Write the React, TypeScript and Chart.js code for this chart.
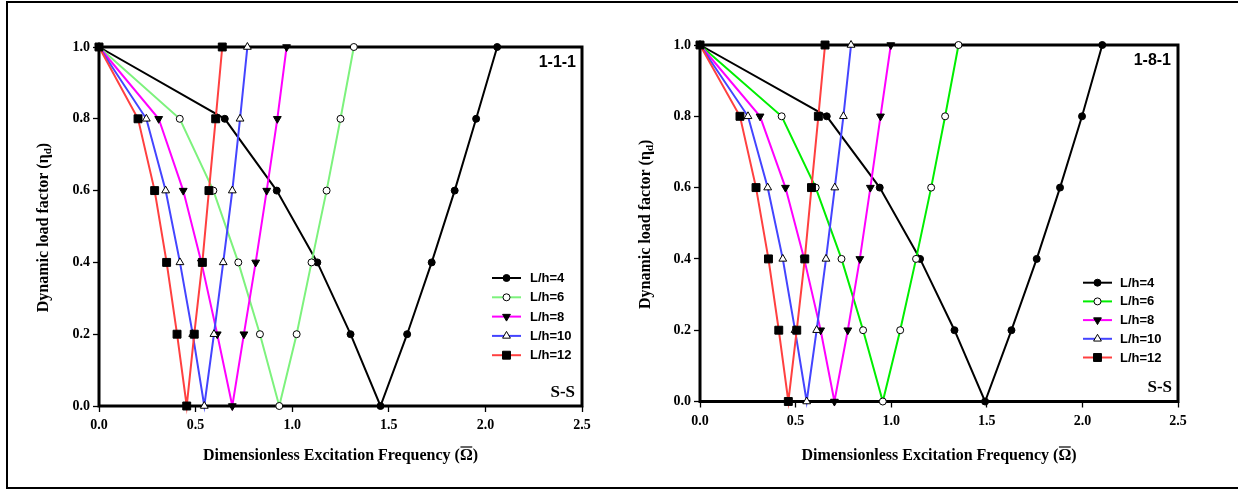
import React, { useEffect, useRef } from 'react';
import { Chart, registerables } from 'chart.js';

Chart.register(...registerables);

const SERIF = '"Liberation Serif", "Times New Roman", serif';
const SANS = '"Liberation Sans", Arial, sans-serif';

// ---------- data ----------
const seriesLabels = ['L/h=4', 'L/h=6', 'L/h=8', 'L/h=10', 'L/h=12'];
// dynamic load factor along each curve (down the left branch, up the right branch)
const etaValues = [1.0, 0.8, 0.6, 0.4, 0.2, 0.0, 0.2, 0.4, 0.6, 0.8, 1.0];
const xTickValues = [0, 0.5, 1.0, 1.5, 2.0, 2.5];
const yTickValues = [0, 0.2, 0.4, 0.6, 0.8, 1.0];

// Panel 1-1-1 : dimensionless excitation frequency
const omega111_Lh4 = [0, 0.651, 0.92, 1.13, 1.302, 1.457, 1.595, 1.722, 1.841, 1.952, 2.061];
const omega111_Lh6 = [0, 0.418, 0.592, 0.721, 0.833, 0.933, 1.023, 1.1, 1.178, 1.25, 1.319];
const omega111_Lh8 = [0, 0.309, 0.436, 0.53, 0.612, 0.69, 0.75, 0.811, 0.868, 0.923, 0.971];
const omega111_Lh10 = [0, 0.245, 0.345, 0.419, 0.485, 0.545, 0.595, 0.643, 0.69, 0.73, 0.768];
const omega111_Lh12 = [0, 0.202, 0.288, 0.35, 0.404, 0.454, 0.493, 0.535, 0.569, 0.604, 0.638];

// Panel 1-8-1
const omega181_Lh4 = [0, 0.663, 0.94, 1.151, 1.331, 1.491, 1.629, 1.761, 1.883, 1.998, 2.104];
const omega181_Lh6 = [0, 0.427, 0.605, 0.74, 0.853, 0.956, 1.047, 1.13, 1.209, 1.282, 1.352];
const omega181_Lh8 = [0, 0.314, 0.447, 0.545, 0.631, 0.703, 0.773, 0.836, 0.891, 0.944, 0.998];
const omega181_Lh10 = [0, 0.251, 0.354, 0.433, 0.497, 0.558, 0.61, 0.659, 0.705, 0.75, 0.79];
const omega181_Lh12 = [0, 0.209, 0.293, 0.358, 0.412, 0.462, 0.506, 0.548, 0.583, 0.619, 0.654];

// ---------- styles ----------
type Marker = { style: string; radius: number; fill: string; rotation: number };
const markers: Marker[] = [
  { style: 'circle', radius: 3.5, fill: '#000000', rotation: 0 },
  { style: 'circle', radius: 3.5, fill: '#ffffff', rotation: 0 },
  { style: 'triangle', radius: 4.5, fill: '#000000', rotation: 180 },
  { style: 'triangle', radius: 4.5, fill: '#ffffff', rotation: 0 },
  { style: 'rect', radius: 5.6, fill: '#000000', rotation: 0 },
];

type PanelCfg = {
  id: string;
  canvasLeft: number;
  tag: string;
  data: number[][];
  colors: string[];
  area: { left: number; top: number; right: number; bottom: number };
  yTitleX: number;
  xTitleY: number;
  legend: { lineX: number; lineW: number; textX: number; y0: number; dy: number };
  tagPos: { x: number; y: number };
  bcPos: { x: number; y: number };
};

const W = 619;
const H = 490;

const panels: PanelCfg[] = [
  {
    id: 'p111',
    canvasLeft: 0,
    tag: '1-1-1',
    data: [omega111_Lh4, omega111_Lh6, omega111_Lh8, omega111_Lh10, omega111_Lh12],
    colors: ['#000000', '#7df27d', '#ff00ff', '#4444ff', '#ff4040'],
    area: { left: 99, top: 47, right: 582, bottom: 406 },
    yTitleX: 44,
    xTitleY: 455,
    legend: { lineX: 492, lineW: 29, textX: 530, y0: 278, dy: 19.3 },
    tagPos: { x: 576, y: 63 },
    bcPos: { x: 575, y: 393 },
  },
  {
    id: 'p181',
    canvasLeft: 619,
    tag: '1-8-1',
    data: [omega181_Lh4, omega181_Lh6, omega181_Lh8, omega181_Lh10, omega181_Lh12],
    colors: ['#000000', '#00ee00', '#ff00ff', '#4444ff', '#ff4040'],
    area: { left: 81, top: 45, right: 559, bottom: 401.5 },
    yTitleX: 27,
    xTitleY: 455,
    legend: { lineX: 464, lineW: 29, textX: 501, y0: 282.7, dy: 18.7 },
    tagPos: { x: 552, y: 61 },
    bcPos: { x: 553, y: 388 },
  },
];

function drawMarker(ctx: CanvasRenderingContext2D, m: Marker, x: number, y: number) {
  ctx.save();
  ctx.beginPath();
  const r = m.radius;
  if (m.style === 'circle') {
    ctx.arc(x, y, r, 0, Math.PI * 2);
  } else if (m.style === 'rect') {
    const s = Math.SQRT1_2 * r;
    ctx.rect(x - s, y - s, 2 * s, 2 * s);
  } else {
    let rad = (m.rotation * Math.PI) / 180;
    const step = (2 * Math.PI) / 3;
    ctx.moveTo(x + Math.sin(rad) * r, y - Math.cos(rad) * r);
    rad += step;
    ctx.lineTo(x + Math.sin(rad) * r, y - Math.cos(rad) * r);
    rad += step;
    ctx.lineTo(x + Math.sin(rad) * r, y - Math.cos(rad) * r);
    ctx.closePath();
  }
  ctx.fillStyle = m.fill;
  ctx.fill();
  ctx.lineWidth = 1;
  ctx.strokeStyle = '#000000';
  ctx.stroke();
  ctx.restore();
}

function makePlugin(cfg: PanelCfg) {
  return {
    id: 'decor_' + cfg.id,
    beforeDatasetsDraw(chart: any) {
      const { ctx, chartArea: a } = chart;
      ctx.save();
      ctx.strokeStyle = '#000';
      ctx.lineWidth = 3;
      ctx.strokeRect(a.left, a.top, a.right - a.left, a.bottom - a.top);
      ctx.restore();
    },
    afterDraw(chart: any) {
      const { ctx, chartArea: a } = chart;
      ctx.save();
      ctx.fillStyle = '#000';
      // y title
      ctx.save();
      ctx.translate(cfg.yTitleX, (a.top + a.bottom) / 2 + 1);
      ctx.rotate(-Math.PI / 2);
      ctx.textBaseline = 'middle';
      ctx.textAlign = 'left';
      const main = 'Dynamic load factor (\u03B7';
      ctx.font = `bold 16px ${SERIF}`;
      const w1 = ctx.measureText(main).width;
      ctx.font = `bold 11px ${SERIF}`;
      const w2 = ctx.measureText('d').width;
      ctx.font = `bold 16px ${SERIF}`;
      const w3 = ctx.measureText(')').width;
      let x = -(w1 + w2 + w3) / 2;
      ctx.fillText(main, x, 0);
      x += w1;
      ctx.font = `bold 11px ${SERIF}`;
      ctx.fillText('d', x, 4);
      x += w2;
      ctx.font = `bold 16px ${SERIF}`;
      ctx.fillText(')', x, 0);
      ctx.restore();

      // x title
      ctx.font = `bold 16px ${SERIF}`;
      ctx.textBaseline = 'alphabetic';
      ctx.textAlign = 'left';
      const p1 = 'Dimensionless Excitation Frequency (';
      const p2 = '\u03A9';
      const p3 = ')';
      const t1 = ctx.measureText(p1).width;
      const m2 = ctx.measureText(p2);
      const t2 = m2.width;
      const t3 = ctx.measureText(p3).width;
      let tx = (a.left + a.right) / 2 - (t1 + t2 + t3) / 2;
      const base = cfg.xTitleY + 5;
      ctx.fillText(p1, tx, base);
      tx += t1;
      ctx.fillText(p2, tx, base);
      const topY = base - m2.actualBoundingBoxAscent - 2;
      ctx.beginPath();
      ctx.lineWidth = 1.2;
      ctx.strokeStyle = '#000';
      ctx.moveTo(tx + 0.5, topY);
      ctx.lineTo(tx + t2 - 0.5, topY);
      ctx.stroke();
      tx += t2;
      ctx.fillText(p3, tx, base);

      // tag labels
      ctx.textAlign = 'right';
      ctx.textBaseline = 'middle';
      ctx.font = `bold 16px ${SANS}`;
      ctx.fillText(cfg.tag, cfg.tagPos.x, cfg.tagPos.y);
      ctx.font = `bold 17px ${SERIF}`;
      ctx.fillText('S-S', cfg.bcPos.x, cfg.bcPos.y);

      // legend
      const L = cfg.legend;
      seriesLabels.forEach((lab, i) => {
        const y = L.y0 + i * L.dy;
        ctx.beginPath();
        ctx.strokeStyle = cfg.colors[i];
        ctx.lineWidth = 2;
        ctx.moveTo(L.lineX, y);
        ctx.lineTo(L.lineX + L.lineW, y);
        ctx.stroke();
        drawMarker(ctx, markers[i], L.lineX + L.lineW / 2, y);
        ctx.fillStyle = '#000';
        ctx.font = `bold 13px ${SANS}`;
        ctx.textAlign = 'left';
        ctx.textBaseline = 'middle';
        ctx.fillText(lab, L.textX, y + 0.5);
      });
      ctx.restore();
    },
  };
}

function Panel({ cfg }: { cfg: PanelCfg }) {
  const ref = useRef<HTMLCanvasElement>(null);
  useEffect(() => {
    const datasets = cfg.data.map((omegas, i) => ({
      label: seriesLabels[i],
      data: omegas.map((o, j) => ({ x: o, y: etaValues[j] })),
      borderColor: cfg.colors[i],
      borderWidth: 2,
      backgroundColor: cfg.colors[i],
      pointStyle: markers[i].style,
      pointRadius: markers[i].radius,
      pointRotation: markers[i].rotation,
      pointBackgroundColor: markers[i].fill,
      pointBorderColor: '#000000',
      pointBorderWidth: 1,
      tension: 0,
      fill: false,
      clip: false,
      order: 5 - i,
    }));
    const tickFont = { family: SERIF, size: 14, weight: 'bold' as const };
    const chart = new Chart(ref.current as HTMLCanvasElement, {
      type: 'line',
      data: { datasets },
      plugins: [makePlugin(cfg)],
      options: {
        responsive: false,
        animation: false,
        devicePixelRatio: 1,
        layout: {
          padding: { left: 0, top: cfg.area.top, right: W - cfg.area.right, bottom: 0 },
        },
        plugins: { legend: { display: false }, tooltip: { enabled: false } },
        scales: {
          x: {
            type: 'linear',
            min: 0,
            max: 2.5,
            afterBuildTicks: (s: any) => {
              s.ticks = xTickValues.map((v) => ({ value: v }));
            },
            afterFit: (s: any) => {
              s.height = H - cfg.area.bottom;
            },
            grid: { display: true, drawOnChartArea: false, drawTicks: true, tickLength: 6, tickColor: '#000', tickWidth: 1.3 },
            border: { display: false },
            ticks: {
              color: '#000',
              font: tickFont,
              padding: 5,
              maxRotation: 0,
              callback: (v: any) => Number(v).toFixed(1),
            },
          },
          y: {
            type: 'linear',
            min: 0,
            max: 1,
            afterBuildTicks: (s: any) => {
              s.ticks = yTickValues.map((v) => ({ value: v }));
            },
            afterFit: (s: any) => {
              s.width = cfg.area.left;
            },
            grid: { display: true, drawOnChartArea: false, drawTicks: true, tickLength: 6, tickColor: '#000', tickWidth: 1.3 },
            border: { display: false },
            ticks: {
              color: '#000',
              font: tickFont,
              padding: 3,
              callback: (v: any) => Number(v).toFixed(1),
            },
          },
        },
      },
    } as any);
    return () => chart.destroy();
  }, [cfg]);
  return (
    <canvas
      ref={ref}
      width={W}
      height={H}
      style={{ position: 'absolute', left: cfg.canvasLeft, top: 0, width: W, height: H }}
    />
  );
}

export default function App() {
  return (
    <div
      style={{
        position: 'fixed',
        left: 0,
        top: 0,
        width: 1238,
        height: 490,
        overflow: 'hidden',
        background: '#fff',
      }}
    >
      <div
        style={{
          position: 'absolute',
          left: 6,
          top: 1,
          width: 1250,
          height: 488,
          boxSizing: 'border-box',
          border: '2px solid #000',
        }}
      />
      {panels.map((p) => (
        <Panel key={p.id} cfg={p} />
      ))}
    </div>
  );
}
